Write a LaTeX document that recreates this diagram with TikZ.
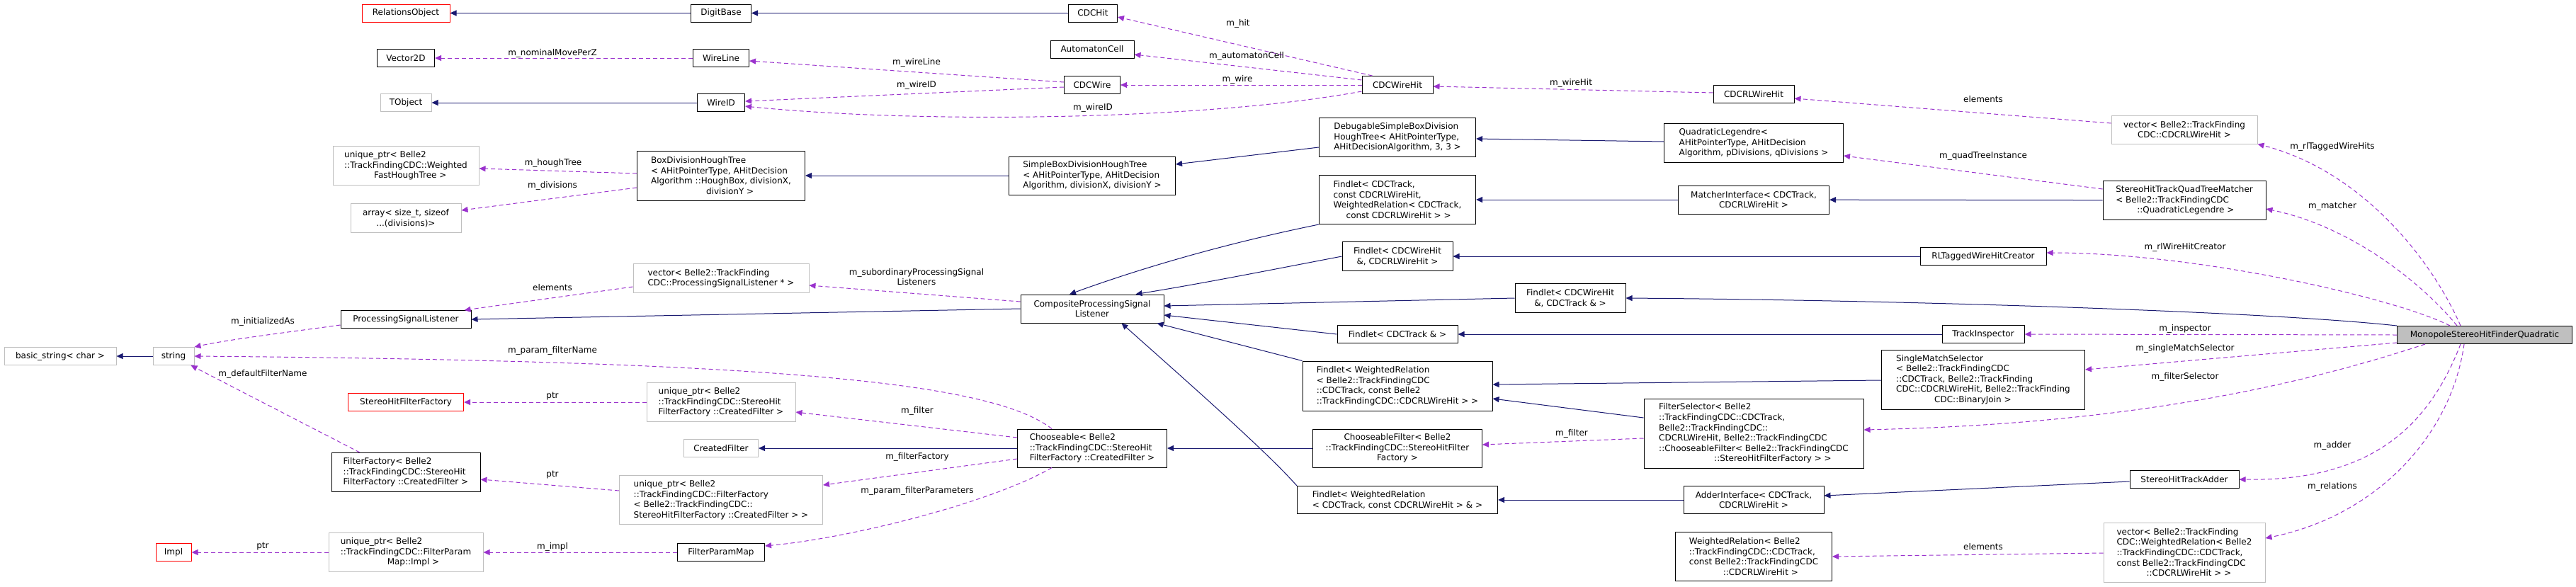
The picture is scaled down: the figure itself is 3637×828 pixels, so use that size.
\documentclass[tikz,border=0pt]{standalone}
\usepackage{fontspec}
\setmainfont{DejaVu Sans}
\usetikzlibrary{arrows.meta}
\definecolor{inh}{HTML}{191970}
\definecolor{use}{HTML}{9A32CD}
\definecolor{gr}{HTML}{BFBFBF}
\begin{document}
\begin{tikzpicture}[x=1pt,y=-1pt,
 every node/.style={font=\fontsize{12}{14.6}\selectfont, inner sep=0pt},
 cls/.style={draw=black, line width=1pt, fill=white},
 ext/.style={draw=gr, line width=1pt, fill=white},
 red/.style={draw=red, line width=1pt, fill=white},
 isa/.style={draw=inh, line width=1pt, -{Triangle[length=9pt,width=8pt]}},
 has/.style={draw=use, line width=1pt, dashed, dash pattern=on 6pt off 4pt, -{Triangle[length=9pt,width=8pt,fill=use]}},
 lbl/.style={font=\fontsize{12}{14.6}\selectfont, align=center}]
\useasboundingbox (0,0) rectangle (3637,828);
\newcommand\bx[6]{\node[#1,minimum width=#4,minimum height=#5,align=center] (#2) at (#3) {#6};}
\newcommand\bl[6]{\node[#1,minimum width=#4,minimum height=#5,align=left] (#2) at (#3) {#6};}
% nodes
\bx{red}{ro}{573,18.5}{124}{25}{RelationsObject}
\bx{cls}{digit}{1018,18.5}{85}{25}{DigitBase}
\bx{cls}{cdchit}{1543,18.5}{69}{25}{CDCHit}
\bx{cls}{autom}{1542,69.5}{118}{25}{AutomatonCell}
\bx{cls}{vec2d}{573,82}{81}{25}{Vector2D}
\bx{cls}{wline}{1018,82}{79}{25}{WireLine}
\bx{cls}{cdcwire}{1542,120}{79}{25}{CDCWire}
\bx{ext}{tobj}{573,145}{72}{25}{TObject}
\bx{cls}{wireid}{1018,145}{67}{25}{WireID}
\bx{cls}{wirehit}{1973,120}{100}{25}{CDCWireHit}
\bx{cls}{rlwirehit}{2476,133}{114}{25}{CDCRLWireHit}
\bl{ext}{upwfht}{573,234}{206}{55}{unique\_ptr< Belle2\\::TrackFindingCDC::Weighted\\\hspace*{3.5em}FastHoughTree >}
\bx{ext}{arr}{573,308}{156}{41}{array< size\_t, sizeof\\...(divisions)>}
\bl{cls}{boxdiv}{1018,248}{237}{70}{BoxDivisionHoughTree\\< AHitPointerType, AHitDecision\\Algorithm ::HoughBox, divisionX,\\\hspace*{6.5em}divisionY >}
\bl{cls}{simplebox}{1542,248}{235}{54}{SimpleBoxDivisionHoughTree\\< AHitPointerType, AHitDecision\\Algorithm, divisionX, divisionY >}
\bl{cls}{debug}{1973,194}{221}{55}{DebugableSimpleBoxDivision\\HoughTree< AHitPointerType,\\ AHitDecisionAlgorithm, 3, 3 >}
\bl{cls}{quad}{2476,202}{253}{55}{QuadraticLegendre<\\ AHitPointerType, AHitDecision\\Algorithm, pDivisions, qDivisions >}
\bx{ext}{vecrl}{3084,183}{206}{40}{vector< Belle2::TrackFinding\\CDC::CDCRLWireHit >}
\bl{cls}{fltrack}{1973,282}{221}{69}{Findlet< CDCTrack,\\ const CDCRLWireHit,\\ WeightedRelation< CDCTrack,\\\hspace*{1.5em}const CDCRLWireHit > >}
\bx{cls}{matcher}{2476,282}{213}{40}{MatcherInterface< CDCTrack,\\CDCRLWireHit >}
\bl{cls}{qtm}{3084,283}{230}{55}{StereoHitTrackQuadTreeMatcher\\< Belle2::TrackFindingCDC\\\hspace*{2.5em}::QuadraticLegendre >}
\bx{cls}{flwhrl}{1973,362}{156}{41}{Findlet< CDCWireHit\\\&, CDCRLWireHit >}
\bx{cls}{rlcreator}{2800,362}{178}{25}{RLTaggedWireHitCreator}
\bl{ext}{vecpsl}{1018,393}{248}{41}{vector< Belle2::TrackFinding\\CDC::ProcessingSignalListener * >}
\bx{cls}{flwht}{2217,421}{156}{41}{Findlet< CDCWireHit\\\&, CDCTrack \& >}
\bx{cls}{composite}{1542,436}{202}{40}{CompositeProcessingSignal\\Listener}
\bx{cls}{psl}{573,451}{184}{25}{ProcessingSignalListener}
\bx{cls}{fltr}{1973,472}{170}{25}{Findlet< CDCTrack \& >}
\bx{cls}{inspector}{2800,472}{116}{25}{TrackInspector}
\node[draw=black,line width=1pt,fill=gr,minimum width=247,minimum height=25] (mono) at (3508,473) {MonopoleStereoHitFinderQuadratic};
\bx{ext}{bstr}{85,503}{158}{25}{basic\_string< char >}
\bx{ext}{str}{245,503}{58}{25}{string}
\bl{cls}{smatch}{2800,536}{287}{84}{SingleMatchSelector\\< Belle2::TrackFindingCDC\\::CDCTrack, Belle2::TrackFinding\\CDC::CDCRLWireHit, Belle2::TrackFinding\\\hspace*{4.5em}CDC::BinaryJoin >}
\bl{cls}{flwr}{1973,545}{268}{70}{Findlet< WeightedRelation\\< Belle2::TrackFindingCDC\\::CDCTrack, const Belle2\\::TrackFindingCDC::CDCRLWireHit > >}
\bx{red}{shff}{573,568}{163}{25}{StereoHitFilterFactory}
\bl{ext}{upshff}{1018,568}{210}{55}{unique\_ptr< Belle2\\::TrackFindingCDC::StereoHit\\FilterFactory ::CreatedFilter >}
\bl{cls}{fsel}{2476,612}{310}{98}{FilterSelector< Belle2\\::TrackFindingCDC::CDCTrack,\\ Belle2::TrackFindingCDC::\\CDCRLWireHit, Belle2::TrackFindingCDC\\::ChooseableFilter< Belle2::TrackFindingCDC\\\hspace*{6.5em}::StereoHitFilterFactory > >}
\bx{ext}{createdf}{1018,633}{105}{25}{CreatedFilter}
\bl{cls}{chooseable}{1542,633}{211}{54}{Chooseable< Belle2\\::TrackFindingCDC::StereoHit\\FilterFactory ::CreatedFilter >}
\bx{cls}{chfilter}{1973,633}{239}{54}{ChooseableFilter< Belle2\\::TrackFindingCDC::StereoHitFilter\\Factory >}
\bl{cls}{ffact}{573,667}{210}{55}{FilterFactory< Belle2\\::TrackFindingCDC::StereoHit\\FilterFactory ::CreatedFilter >}
\bx{cls}{adder}{3084,677}{154}{25}{StereoHitTrackAdder}
\bl{ext}{upff}{1018,706}{287}{69}{unique\_ptr< Belle2\\::TrackFindingCDC::FilterFactory\\< Belle2::TrackFindingCDC::\\StereoHitFilterFactory ::CreatedFilter > >}
\bl{cls}{flwrref}{1973,706}{283}{39}{Findlet< WeightedRelation\\< CDCTrack, const CDCRLWireHit > \& >}
\bx{cls}{adderif}{2476,706}{198}{39}{AdderInterface< CDCTrack,\\CDCRLWireHit >}
\bx{red}{impl}{245,780}{50}{25}{Impl}
\bl{ext}{upimpl}{573,780}{218}{55}{unique\_ptr< Belle2\\::TrackFindingCDC::FilterParam\\\hspace*{5.5em}Map::Impl >}
\bx{cls}{fpm}{1018,780}{123}{25}{FilterParamMap}
\bl{ext}{vecwr}{3084,780}{228}{84}{vector< Belle2::TrackFinding\\CDC::WeightedRelation< Belle2\\::TrackFindingCDC::CDCTrack,\\ const Belle2::TrackFindingCDC\\\hspace*{3.5em}::CDCRLWireHit > >}
\bl{cls}{wrel}{2476,786}{221}{69}{WeightedRelation< Belle2\\::TrackFindingCDC::CDCTrack,\\ const Belle2::TrackFindingCDC\\\hspace*{4em}::CDCRLWireHit >}
% inheritance
\draw[isa] (digit) -- (ro);
\draw[isa] (cdchit) -- (digit);
\draw[isa] (wireid) -- (tobj);
\draw[isa] (simplebox) -- (boxdiv);
\draw[isa] (debug.west |- 0,208) -- (simplebox.east |- 0,232);
\draw[isa] (quad.west |- 0,200) -- (debug.east |- 0,196);
\draw[isa] (matcher) -- (fltrack);
\draw[isa] (qtm) -- (matcher);
\draw[isa] (rlcreator) -- (flwhrl);
\draw[isa] (inspector) -- (fltr);
\draw[isa] (mono.north west) .. controls (3200,440) and (2700,424) .. (flwht.east);
\draw[isa] (smatch.west |- 0,537) -- (flwr.east |- 0,543);
\draw[isa] (fsel.west |- 0,590) -- (flwr.east |- 0,563);
\draw[isa] (adderif) -- (flwrref);
\draw[isa] (adder.west |- 0,680) -- (adderif.east |- 0,700);
\draw[isa] (fltrack.south west) .. controls (1700,350) and (1580,390) .. ([xshift=-32pt]composite.north);
\draw[isa] (flwhrl.west) .. controls (1800,380) and (1700,400) .. ([xshift=-40pt]composite.north east);
\draw[isa] (flwht.west) -- (composite.east |- 0,432);
\draw[isa] (fltr.west) -- (composite.east |- 0,445);
\draw[isa] (flwr.north west) -- ([xshift=-10pt]composite.south east);
\draw[isa] (flwrref.north west) .. controls (1790,640) and (1700,560) .. ([xshift=-60pt]composite.south east);
\draw[isa] (composite.west) -- (psl.east);
\draw[isa] (chooseable) -- (createdf);
\draw[isa] (chfilter) -- (chooseable);
\draw[isa] (str) -- (bstr);
% usage
\draw[has] (wline) -- (vec2d);
\draw[has] (cdcwire.west |- 0,116) -- (wline.east |- 0,86);
\draw[has] (cdcwire.west |- 0,123) -- (wireid.east |- 0,143);
\draw[has] (wirehit.west |- 0,129) .. controls (1700,170) and (1300,175) .. (wireid.east |- 0,150);
\draw[has] ([xshift=15pt]wirehit.north west) -- (cdchit.east |- 0,24);
\draw[has] (wirehit.west |- 0,113) -- (autom.east |- 0,77);
\draw[has] (wirehit.west |- 0,120) -- (cdcwire.east);
\draw[has] (rlwirehit.west |- 0,131) -- (wirehit.east |- 0,122);
\draw[has] (vecrl.west |- 0,174) -- (rlwirehit.east |- 0,139);
\draw[has] ([xshift=90pt]mono.north west) .. controls (3430,360) and (3330,240) .. (vecrl.south east);
\draw[has] ([xshift=85pt]mono.north west) .. controls (3420,400) and (3320,320) .. (qtm.east |- 0,295);
\draw[has] ([xshift=75pt]mono.north west) .. controls (3380,420) and (3100,357) .. (rlcreator.east |- 0,357);
\draw[has] (qtm.west |- 0,267) -- (quad.east |- 0,220);
\draw[has] (mono.west) -- (inspector.east);
\draw[has] (mono.west |- 0,484) -- (smatch.east |- 0,522);
\draw[has] ([xshift=40pt]mono.south west) .. controls (3200,560) and (2950,600) .. (fsel.east |- 0,607);
\draw[has] ([xshift=90pt]mono.south west) .. controls (3430,600) and (3350,680) .. (adder.east);
\draw[has] ([xshift=95pt]mono.south west) .. controls (3460,620) and (3350,730) .. (vecwr.east |- 0,760);
\draw[has] (vecwr.west |- 0,781) -- (wrel.east |- 0,786);
\draw[has] (fsel.west |- 0,619) -- (chfilter.east |- 0,628);
\draw[has] (boxdiv.west |- 0,245) -- (upwfht.east |- 0,238);
\draw[has] (boxdiv.west |- 0,265) -- (arr.east |- 0,297);
\draw[has] (vecpsl.west |- 0,405) -- ([xshift=-10pt]psl.north east);
\draw[has] (composite.west |- 0,426) -- (vecpsl.east |- 0,403);
\draw[has] (psl.west |- 0,459) .. controls (400,470) and (320,480) .. (str.north east);
\draw[has] ([xshift=-57pt]chooseable.north) .. controls (1400,540) and (1100,510) .. (str.east);
\draw[has] ([xshift=-65pt]ffact.north) -- ([xshift=-5pt]str.south east);
\draw[has] (upshff) -- (shff);
\draw[has] (chooseable.west |- 0,618) -- (upshff.east |- 0,582);
\draw[has] (chooseable.west |- 0,648) -- (upff.east |- 0,685);
\draw[has] ([xshift=-57pt]chooseable.south) .. controls (1400,710) and (1200,760) .. (fpm.east |- 0,771);
\draw[has] (upff.west |- 0,693) -- (ffact.east |- 0,677);
\draw[has] (fpm) -- (upimpl);
\draw[has] (upimpl) -- (impl);
% labels
\node[lbl] (l1) at (780,75) {m\_nominalMovePerZ};
\node[lbl] (l2) at (781,230) {m\_houghTree};
\node[lbl] (l3) at (780,262) {m\_divisions};
\node[lbl] (l4) at (780,406) {elements};
\node[lbl] (l5) at (371,454) {m\_initializedAs};
\node[lbl] (l6) at (780,495) {m\_param\_filterName};
\node[lbl] (l7) at (371,528) {m\_defaultFilterName};
\node[lbl] (l8) at (780,560) {ptr};
\node[lbl] (l9) at (780,671) {ptr};
\node[lbl] (l10) at (371,772) {ptr};
\node[lbl] (l11) at (780,772) {m\_impl};
\node[lbl] (l12) at (1748,33) {m\_hit};
\node[lbl] (l13) at (1760,79) {m\_automatonCell};
\node[lbl] (l14) at (1294,88) {m\_wireLine};
\node[lbl] (l15) at (1294,120) {m\_wireID};
\node[lbl] (l16) at (1747,112) {m\_wire};
\node[lbl] (l17) at (1543,152) {m\_wireID};
\node[lbl] (l18) at (1294,391) {m\_subordinaryProcessingSignal\\Listeners};
\node[lbl] (l19) at (1295,580) {m\_filter};
\node[lbl] (l20) at (1295,645) {m\_filterFactory};
\node[lbl] (l21) at (1295,693) {m\_param\_filterParameters};
\node[lbl] (l22) at (2218,117) {m\_wireHit};
\node[lbl] (l23) at (2219,612) {m\_filter};
\node[lbl] (l24) at (2800,140) {elements};
\node[lbl] (l25) at (2800,220) {m\_quadTreeInstance};
\node[lbl] (l26) at (3293,207) {m\_rlTaggedWireHits};
\node[lbl] (l27) at (3293,291) {m\_matcher};
\node[lbl] (l28) at (3085,349) {m\_rlWireHitCreator};
\node[lbl] (l29) at (3085,464) {m\_inspector};
\node[lbl] (l30) at (3085,492) {m\_singleMatchSelector};
\node[lbl] (l31) at (3085,532) {m\_filterSelector};
\node[lbl] (l32) at (3293,629) {m\_adder};
\node[lbl] (l33) at (3293,687) {m\_relations};
\node[lbl] (l34) at (2800,772) {elements};
\end{tikzpicture}
\end{document}
